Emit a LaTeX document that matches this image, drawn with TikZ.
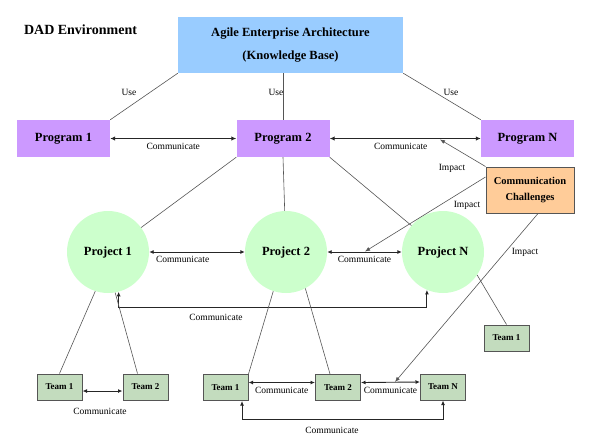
\documentclass[tikz,border=0pt]{standalone}
\usepackage{fontspec}
\setmainfont{Liberation Serif}
\usetikzlibrary{arrows.meta,positioning}
\definecolor{kbblue}{HTML}{99CCFF}
\definecolor{progpurple}{HTML}{CC99FF}
\definecolor{projgreen}{HTML}{CCFFCC}
\definecolor{teamgreen}{HTML}{C3DCBE}
\definecolor{challorange}{HTML}{FFCC99}
\definecolor{edgegray}{HTML}{555555}

\begin{document}
\begin{tikzpicture}[
    x=1pt,y=-1pt,
    title/.style={font=\fontsize{14}{16}\selectfont\bfseries},
    kbbox/.style={fill=kbblue, minimum width=225pt, minimum height=56pt,
      inner sep=0pt, align=center, font=\fontsize{12.5}{23}\selectfont\bfseries},
    progbox/.style={fill=progpurple, minimum width=93pt, minimum height=37pt,
      inner sep=0pt, font=\fontsize{12.5}{14}\selectfont\bfseries},
    challbox/.style={fill=challorange, draw=edgegray, line width=1pt,
      minimum width=88pt, minimum height=46pt, inner sep=0pt, align=center,
      font=\fontsize{10.5}{16}\selectfont\bfseries},
    projcirc/.style={circle, fill=projgreen, minimum size=82pt, inner sep=0pt,
      font=\fontsize{12.5}{14}\selectfont\bfseries},
    teambox/.style={fill=teamgreen, draw=edgegray, line width=1pt,
      minimum width=45pt, minimum height=26pt, inner sep=0pt,
      font=\fontsize{9}{10}\selectfont\bfseries},
    lbl/.style={font=\fontsize{9.5}{11}\selectfont, inner sep=1pt},
    link/.style={draw=edgegray, line width=0.6pt},
    talk/.style={draw=black!85, line width=1.3pt, {Latex[length=5pt,width=4.5pt]}-{Latex[length=5pt,width=4.5pt]}},
    thintalk/.style={draw=black!85, line width=0.9pt, {Latex[length=4.5pt,width=4pt]}-{Latex[length=4.5pt,width=4pt]}},
    impact/.style={draw=edgegray, line width=0.6pt, -{Latex[length=5pt,width=4pt]}}
  ]
  \useasboundingbox (0,0) rectangle (591,440);

  \node[title] (dad) at (80.5,30) {DAD Environment};
  \node[kbbox] (kb) at (290.5,45) {Agile Enterprise Architecture\\(Knowledge Base)};

  \node[progbox] (p1) at (63.5,138.5) {Program 1};
  \node[progbox] (p2) at (283,138.5) {Program 2};
  \node[progbox] (pN) at (527.5,138.5) {Program N};
  \node[challbox] (cc) at (530,190) {Communication\\Challenges};

  \node[projcirc] (pj1) at (108,252) {Project 1};
  \node[projcirc] (pj2) at (286,252) {Project 2};
  \node[projcirc] (pjN) at (443,252) {Project N};

  \node[teambox] (t1a) at (59.5,387) {Team 1};
  \node[teambox] (t2a) at (145.5,387) {Team 2};
  \node[teambox] (t1b) at (225.5,387.5) {Team 1};
  \node[teambox] (t2b) at (338,387.5) {Team 2};
  \node[teambox] (tN) at (443,387) {Team N};
  \node[teambox] (t1c) at (506.5,338) {Team 1};

  \coordinate (imp1) at (440,139.5);
  \coordinate (imp2) at (365,251.5);
  \coordinate (imp3) at (395,382);
  \coordinate (bus1) at (0,307);
  \coordinate (bus2) at (0,419);

  \draw[link] (kb.south west) -- (p1.north east);
  \draw[link] (p2.north) -- (p2.north |- kb.south);
  \draw[link] (kb.south east) -- (pN.north west);
  \node[lbl] (use1) at (129,92) {Use};
  \node[lbl] (use2) at (276,92) {Use};
  \node[lbl] (use3) at (451,92) {Use};

  \draw[talk] (p1) -- node[lbl,below=3pt] {Communicate} (p2);
  \draw[talk] (p2) -- node[lbl,below=3pt,pos=0.47] {Communicate} (pN);

  \draw[link] (p2.south west) -- (pj1);
  \draw[link] (p2.south) -- (pj2);
  \draw[link] (p2.south east) -- (pjN);

  \draw[impact] (cc.north west) -- (imp1);
  \draw[impact] ([yshift=13pt]cc.west) -- (imp2);
  \draw[impact] ([xshift=8pt]cc.south) -- (imp3);
  \node[lbl] (imptxt1) at (452,168) {Impact};
  \node[lbl] (imptxt2) at (467,205) {Impact};
  \node[lbl] (imptxt3) at (525,252) {Impact};

  \draw[thintalk] (pj1) -- node[lbl,below=3pt,pos=0.35] {Communicate} (pj2);
  \draw[thintalk] (pj2) -- node[lbl,below=3pt] {Communicate} (pjN);
  \draw[thintalk] (pj1.-75) -- (pj1.-75 |- bus1) -| (pjN.-113);
  \node[lbl] (bustxt1) at (216,317) {Communicate};

  \draw[link] (pj1.-108) -- (t1a.north);
  \draw[link] (pj1.-80) -- ([xshift=-8pt]t2a.north);
  \draw[link] (pj2.-108) -- (t1b.north east);
  \draw[link] (pj2.-62) -- ([xshift=-8pt]t2b.north);
  \draw[link] (pjN.-34) -- (t1c.north);

  \draw[thintalk] ([yshift=-4pt]t1a.east) -- ([yshift=-4pt]t2a.west);
  \node[lbl] (teamtxt1) at (100,411) {Communicate};
  \draw[thintalk] ([yshift=5pt]t1b.east) -- node[lbl,below=3pt] {Communicate} ([yshift=5pt]t2b.west);
  \draw[thintalk] ([yshift=5pt]t2b.east) -- node[lbl,below=3pt] {Communicate} ([yshift=5pt]tN.west);
  \draw[thintalk] ([xshift=16.5pt]t1b.south) -- ([xshift=16.5pt]t1b.south |- bus2) -| (tN.south);
  \node[lbl] (bustxt2) at (332,430) {Communicate};
\end{tikzpicture}
\end{document}
